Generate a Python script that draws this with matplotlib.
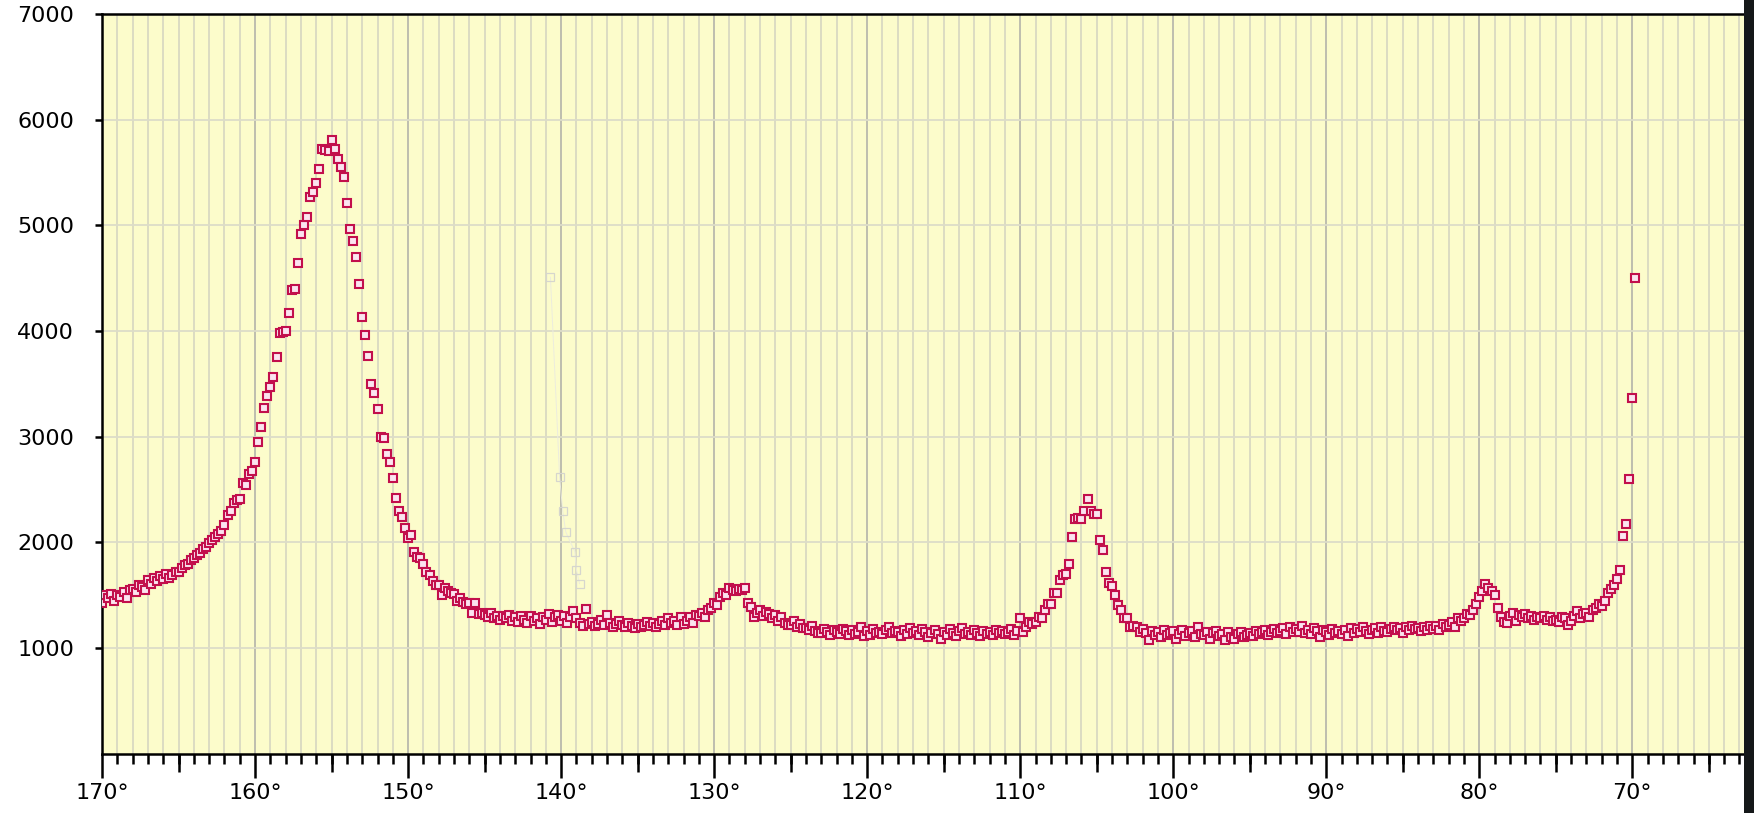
"""
Angular scan: detector counts vs. scattering angle, plotted on a reversed
angle axis with a fine degree grid.
"""

import numpy as np
import matplotlib.pyplot as plt
from matplotlib.patches import Rectangle
from matplotlib.ticker import FixedLocator, FuncFormatter

# Scan grid (instrument step) and measured counts, 170.0 deg down to 69.8 deg
ANGLE_START = 170.0
ANGLE_STEP = 0.2

COUNTS = [
    1430, 1500, 1470, 1510, 1450,   # 170
    1500, 1480, 1530, 1470, 1550,   # 169
    1560, 1530, 1600, 1580, 1550,   # 168
    1640, 1610, 1660, 1630, 1680,   # 167
    1650, 1700, 1660, 1690, 1720,   # 166
    1720, 1760, 1790, 1800, 1830,   # 165
    1850, 1880, 1900, 1940, 1960,   # 164
    1990, 2020, 2050, 2080, 2110,   # 163
    2160, 2260, 2300, 2370, 2400,   # 162
    2410, 2560, 2540, 2650, 2680,   # 161
    2760, 2950, 3090, 3270, 3390,   # 160
    3470, 3570, 3750, 3980, 3990,   # 159
    4000, 4170, 4390, 4400, 4640,   # 158
    4920, 5000, 5080, 5270, 5320,   # 157
    5400, 5530, 5720, 5710, 5700,   # 156
    5806, 5720, 5630, 5550, 5460,   # 155
    5210, 4970, 4850, 4700, 4450,   # 154
    4130, 3960, 3760, 3500, 3410,   # 153
    3260, 3000, 2990, 2840, 2760,   # 152
    2610, 2420, 2300, 2240, 2140,   # 151
    2040, 2070, 1910, 1860, 1850,   # 150
    1800, 1720, 1690, 1630, 1600,   # 149
    1600, 1500, 1570, 1540, 1520,   # 148
    1510, 1450, 1470, 1440, 1420,   # 147
    1430, 1330, 1430, 1320, 1330,   # 146
    1310, 1290, 1330, 1280, 1300,   # 145
    1270, 1300, 1280, 1310, 1260,   # 144
    1290, 1250, 1300, 1270, 1240,   # 143
    1300, 1260, 1280, 1230, 1290,   # 142
    1270, 1320, 1250, 1290, 1310,   # 141
    1260, 1300, 1240, 1290, 1350,   # 140
    1280, 1240, 1210, 1370, 1230,   # 139
    1250, 1210, 1230, 1270, 1220,   # 138
    1310, 1240, 1200, 1230, 1260,   # 137
    1220, 1200, 1240, 1210, 1190,   # 136
    1230, 1200, 1220, 1250, 1210,   # 135
    1240, 1200, 1230, 1260, 1220,   # 134
    1280, 1240, 1260, 1220, 1290,   # 133
    1230, 1260, 1290, 1240, 1310,   # 132
    1300, 1330, 1290, 1360, 1380,   # 131
    1430, 1410, 1480, 1520, 1500,   # 130
    1565, 1550, 1540, 1560, 1550,   # 129
    1565, 1430, 1390, 1290, 1330,   # 128
    1360, 1300, 1340, 1320, 1280,   # 127
    1310, 1260, 1290, 1240, 1220,   # 126
    1220, 1260, 1200, 1230, 1190,   # 125
    1190, 1170, 1210, 1160, 1140,   # 124
    1140, 1180, 1150, 1120, 1170,   # 123
    1150, 1130, 1180, 1160, 1120,   # 122
    1170, 1130, 1150, 1200, 1110,   # 121
    1160, 1120, 1180, 1140, 1150,   # 120
    1130, 1170, 1200, 1140, 1160,   # 119
    1150, 1110, 1170, 1130, 1190,   # 118
    1140, 1160, 1120, 1180, 1150,   # 117
    1100, 1140, 1170, 1130, 1090,   # 116
    1150, 1120, 1180, 1140, 1110,   # 115
    1160, 1190, 1130, 1150, 1120,   # 114
    1170, 1140, 1110, 1160, 1130,   # 113
    1150, 1120, 1170, 1140, 1160,   # 112
    1130, 1150, 1180, 1120, 1160,   # 111
    1280, 1150, 1200, 1250, 1230,   # 110
    1250, 1290, 1280, 1360, 1420,   # 109
    1420, 1520, 1520, 1640, 1690,   # 108
    1700, 1800, 2050, 2220, 2230,   # 107
    2220, 2300, 2410, 2300, 2270,   # 106
    2270, 2020, 1930, 1720, 1620,   # 105
    1590, 1500, 1410, 1360, 1280,   # 104
    1280, 1200, 1210, 1200, 1150,   # 103
    1180, 1140, 1075, 1160, 1120,   # 102
    1150, 1100, 1170, 1120, 1140,   # 101
    1160, 1090, 1130, 1170, 1110,   # 100
    1140, 1160, 1100, 1200, 1130,   # 99
    1120, 1150, 1090, 1140, 1160,   # 98
    1110, 1130, 1080, 1150, 1100,   # 97
    1090, 1130, 1150, 1100, 1120,   # 96
    1140, 1110, 1160, 1130, 1150,   # 95
    1170, 1120, 1150, 1180, 1140,   # 94
    1160, 1190, 1130, 1200, 1150,   # 93
    1180, 1150, 1210, 1140, 1170,   # 92
    1130, 1190, 1160, 1100, 1170,   # 91
    1150, 1120, 1180, 1140, 1160,   # 90
    1130, 1170, 1110, 1190, 1140,   # 89
    1180, 1150, 1200, 1160, 1130,   # 88
    1170, 1190, 1140, 1200, 1160,   # 87
    1150, 1180, 1200, 1170, 1190,   # 86
    1140, 1200, 1170, 1210, 1180,   # 85
    1190, 1160, 1200, 1170, 1210,   # 84
    1180, 1210, 1170, 1230, 1200,   # 83
    1220, 1250, 1200, 1280, 1260,   # 82
    1280, 1320, 1310, 1360, 1420,   # 81
    1480, 1540, 1605, 1570, 1540,   # 80
    1500, 1380, 1290, 1250, 1240,   # 79
    1300, 1330, 1260, 1310, 1290,   # 78
    1320, 1280, 1300, 1270, 1290,   # 77
    1280, 1300, 1270, 1290, 1260,   # 76
    1270, 1250, 1290, 1280, 1220,   # 75
    1260, 1300, 1350, 1280, 1320,   # 74
    1330, 1290, 1360, 1380, 1420,   # 73
    1400, 1450, 1520, 1560, 1600,   # 72
    1650, 1740, 2060, 2170, 2600,   # 71
    3370, 4500,                     # 70.0, 69.8
]

# Faint trace left over from an earlier run near 140 deg
GHOST_ANGLES = [140.7, 140.1, 139.9, 139.7, 139.1, 139.0, 138.8]
GHOST_COUNTS = [4510, 2620, 2300, 2100, 1910, 1740, 1610]

Y_TICKS = [1000, 2000, 3000, 4000, 5000, 6000, 7000]
X_LABELED = [170, 160, 150, 140, 130, 120, 110, 100, 90, 80, 70]
X_MID = [165, 155, 145, 135, 125, 115, 105, 95, 85, 75, 65]

BG = '#fcfccb'
MARK_EDGE = '#c20f4c'
MARK_FACE = '#fbe4f0'

angles = ANGLE_START - ANGLE_STEP * np.arange(len(COUNTS))
counts = np.array(COUNTS)

fig = plt.figure(figsize=(17.54, 8.13), dpi=100)
fig.patch.set_facecolor('white')
ax = fig.add_axes([0.0582, 0.0729, 0.9361, 0.9098])
ax.set_facecolor(BG)

ax.set_xlim(170, 62.7)
ax.set_ylim(0, 7000)

# grid: every degree, darker every ten
for a in range(63, 171):
    col = '#b9b9ac' if a % 10 == 0 else '#d9d9c2'
    ax.axvline(a, color=col, lw=1.3, zorder=0)
for v in Y_TICKS[:-1]:
    ax.axhline(v, color='#dcdcc8', lw=1.3, zorder=0)

ax.plot(GHOST_ANGLES, GHOST_COUNTS, color='#ececde', lw=0.7, marker='s',
        ms=5.5, mfc='none', mec='#d6d6ce', mew=0.9, zorder=1)

ax.plot(angles, counts, linestyle='none', marker='s', ms=5.6,
        mfc=MARK_FACE, mec=MARK_EDGE, mew=1.5, zorder=3)

# axes frame: left, bottom, top in black; right edge left open
for side in ['left', 'bottom', 'top']:
    ax.spines[side].set_color('black')
    ax.spines[side].set_linewidth(1.8)
ax.spines['right'].set_visible(False)

ax.xaxis.set_major_locator(FixedLocator(X_LABELED))
ax.xaxis.set_minor_locator(FixedLocator(list(range(63, 171))))
ax.xaxis.set_major_formatter(FuncFormatter(lambda v, p: f'{int(v)}°'))
ax.tick_params(axis='x', which='major', direction='out', length=17, width=1.8,
               pad=4, labelsize=16, color='black')
ax.tick_params(axis='x', which='minor', direction='out', length=7, width=1.8,
               color='black')

# medium ticks at the 5-degree marks
sec = ax.secondary_xaxis('bottom')
sec.set_xticks(X_MID)
sec.tick_params(direction='out', length=13, width=1.8, labelbottom=False,
                color='black')
sec.spines['bottom'].set_visible(False)

ax.set_yticks(Y_TICKS)
ax.set_yticklabels([str(v) for v in Y_TICKS])
ax.tick_params(axis='y', direction='out', length=5, width=1.8, pad=15,
               labelsize=16, color='black')

# dark edge strip along the right border
fig.patches.append(Rectangle((0.9943, 0), 0.0057, 1, transform=fig.transFigure,
                             facecolor='#151819', edgecolor='none', zorder=10))

plt.savefig('out.png', dpi=100)
plt.close()
